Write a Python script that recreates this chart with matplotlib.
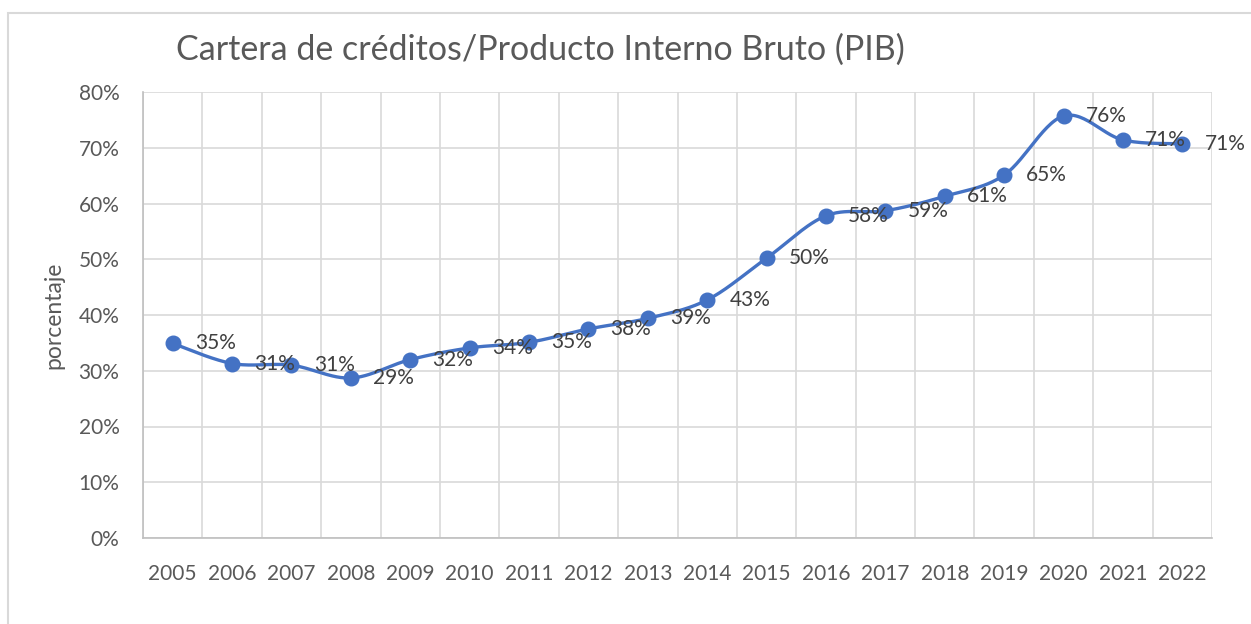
import numpy as np
import matplotlib
matplotlib.use("Agg")
import matplotlib.pyplot as plt
from matplotlib.patches import Rectangle
from matplotlib.ticker import PercentFormatter, FixedLocator

plt.rcParams['font.family'] = ['Lato', 'DejaVu Sans']

# data
years = [2005, 2006, 2007, 2008, 2009, 2010, 2011, 2012, 2013,
         2014, 2015, 2016, 2017, 2018, 2019, 2020, 2021, 2022]
ratio = [0.349, 0.313, 0.310, 0.287, 0.320, 0.341, 0.351, 0.375, 0.394,
         0.427, 0.502, 0.578, 0.587, 0.613, 0.651, 0.757, 0.714, 0.707]
yticks = [0, 0.1, 0.2, 0.3, 0.4, 0.5, 0.6, 0.7, 0.8]

BLUE = '#4472C4'
GRID = '#D9D9D9'
TXT = '#595959'
LBL = '#404040'


def smooth(xs, ys, n=30):
    # excel-like smoothed line (cardinal bezier through the points)
    xs = np.asarray(xs, float)
    ys = np.asarray(ys, float)
    px = np.concatenate([[xs[0]], xs, [xs[-1]]])
    py = np.concatenate([[ys[0]], ys, [ys[-1]]])
    ox, oy = [], []
    t = np.linspace(0, 1, n)
    for i in range(1, len(px) - 2):
        p0 = np.array([px[i], py[i]])
        p3 = np.array([px[i + 1], py[i + 1]])
        c1 = p0 + (np.array([px[i + 1], py[i + 1]]) - np.array([px[i - 1], py[i - 1]])) / 6
        c2 = p3 - (np.array([px[i + 2], py[i + 2]]) - np.array([px[i], py[i]])) / 6
        pts = ((1 - t) ** 3)[:, None] * p0 + (3 * (1 - t) ** 2 * t)[:, None] * c1 \
            + (3 * (1 - t) * t ** 2)[:, None] * c2 + (t ** 3)[:, None] * p3
        ox.extend(pts[:, 0])
        oy.extend(pts[:, 1])
    return np.array(ox), np.array(oy)


fig = plt.figure(figsize=(12.51, 6.24), dpi=100)
ax = fig.add_axes([143 / 1251, 1 - 538 / 624, (1212 - 143) / 1251, (538 - 92) / 624])

x = np.arange(len(years))
sx, sy = smooth(x, ratio)
ax.plot(sx, sy, color=BLUE, lw=2.4, solid_capstyle='round', zorder=3)
ax.plot(x, ratio, 'o', color=BLUE, ms=10.5, zorder=4)

for xi, v in zip(x, ratio):
    ax.annotate(f'{v*100:.0f}%', (xi, v), xytext=(16, 0), textcoords='offset points',
                ha='left', va='center', fontsize=15, color=LBL, zorder=5,
                annotation_clip=False)

ax.set_xlim(-0.5, len(years) - 0.5)
ax.set_ylim(0, 0.8)
ax.set_yticks(yticks)
ax.yaxis.set_major_formatter(PercentFormatter(1.0, decimals=0))
ax.set_xticks(x)
ax.set_xticklabels([str(y) for y in years])
ax.xaxis.set_minor_locator(FixedLocator(np.arange(-0.5, len(years), 1.0)))

ax.grid(True, axis='y', which='major', color=GRID, lw=1.2)
ax.grid(True, axis='x', which='minor', color=GRID, lw=1.2)
ax.set_axisbelow(True)
for s in ['top', 'right']:
    ax.spines[s].set_visible(False)
for s in ['left', 'bottom']:
    ax.spines[s].set_color('#BFBFBF')
    ax.spines[s].set_linewidth(1.2)
ax.tick_params(axis='both', which='both', length=0, labelsize=15, labelcolor=TXT)
ax.tick_params(axis='x', pad=19)
ax.tick_params(axis='y', pad=17)

ax.set_ylabel('porcentaje', fontsize=16.5, color=TXT, labelpad=10)

fig.text(176 / 1251, 1 - 50 / 624, 'Cartera de créditos/Producto Interno Bruto (PIB)',
         fontsize=24.5, color=TXT, ha='left', va='center')

# chart frame (cut off on right and bottom in the reference)
fig.patches.append(Rectangle((8 / 1251, -0.1), 1.2, 1 - 13 / 624 + 0.1,
                             transform=fig.transFigure, fill=False,
                             edgecolor='#D9D9D9', lw=1.5))

fig.savefig('out.png', dpi=100)
